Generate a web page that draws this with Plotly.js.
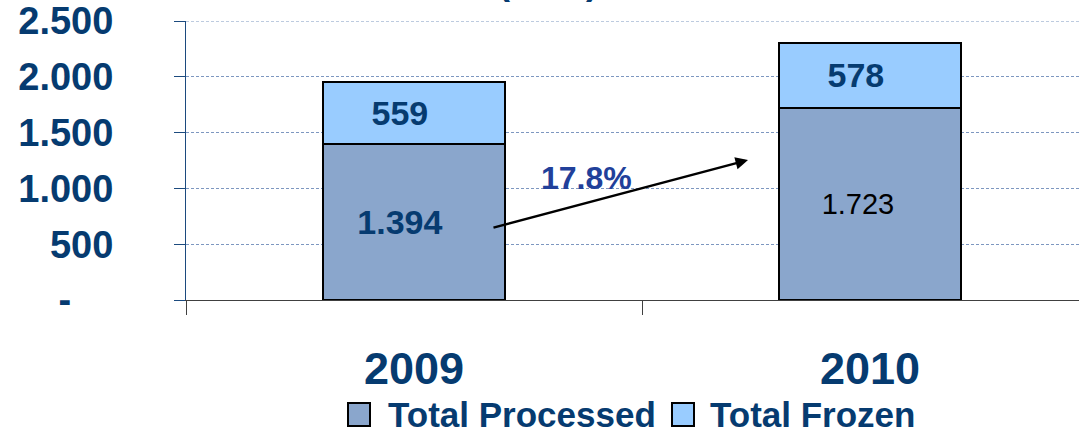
<!DOCTYPE html>
<html>
<head>
<meta charset="utf-8">
<script src="https://cdn.plot.ly/plotly-3.0.1.min.js"></script>
<style>
  body { margin: 0; background: #ffffff; }
  #chart { width: 1079px; height: 430px; }
</style>
</head>
<body>
<div id="chart"></div>
<script>
// chart data
var years = ["2009", "2010"];
var seriesNames = ["Total Processed", "Total Frozen"];
var processed = [1394, 1723];
var frozen = [559, 578];
var yTicks = [0, 500, 1000, 1500, 2000, 2500];

var NAVY = "#063b70";
var FONT = "Liberation Sans, Arial, sans-serif";
var PAD = "\u00a0\u00a0\u00a0"; // labels sit a bit left of the bar centre in the original

// plot area in page pixels (used for the hand made legend)
var L = 186, T = 21, W = 893, H = 279;
function px(x) { return (x - L) / W; }
function py(y) { return (T + H - y) / H; }

// 1394 -> "1.394"
function fmt(v) {
    return String(v).replace(/\B(?=(\d{3})+(?!\d))/g, ".");
}

var tickText = yTicks.map(function (v) {
    return v === 0 ? "-\u00a0\u00a0\u00a0\u00a0" : fmt(v);
});

// growth of the totals
var total0 = processed[0] + frozen[0];
var total1 = processed[1] + frozen[1];
var growth = ((total1 - total0) / total0 * 100).toFixed(1) + "%";

var traceProcessed = {
    type: "bar",
    name: seriesNames[0],
    x: years,
    y: processed,
    width: 0.4,
    text: ["<b>" + fmt(processed[0]) + PAD + "</b>", fmt(processed[1]) + PAD],
    textposition: "inside",
    insidetextanchor: "middle",
    constraintext: "none",
    textfont: { family: FONT, size: [34, 29], color: [NAVY, "#000000"] },
    marker: { color: "#8aa6cc", line: { color: "#000000", width: 2 } },
    hoverinfo: "skip"
};

var traceFrozen = {
    type: "bar",
    name: seriesNames[1],
    x: years,
    y: frozen,
    width: 0.4,
    text: frozen.map(function (v) { return "<b>" + fmt(v) + PAD + "</b>"; }),
    textposition: "inside",
    insidetextanchor: "middle",
    constraintext: "none",
    textfont: { family: FONT, size: 34, color: NAVY },
    marker: { color: "#99ccff", line: { color: "#000000", width: 2 } },
    hoverinfo: "skip"
};

var legendColors = ["#8aa6cc", "#99ccff"];
var legendBoxX = [348, 672];
var legendTextX = [386, 708];

var shapes = [];
var annotations = [];

// top gridline (plotly leaves out the one on the plot edge)
shapes.push({
    type: "line", xref: "paper", yref: "y",
    x0: 0, x1: 1, y0: yTicks[yTicks.length - 1], y1: yTicks[yTicks.length - 1],
    line: { color: "#7d97c0", width: 1, dash: "3px,2px" }
});

// legend, drawn by hand so the boxes can be as large as in the original
for (let i = 0; i < seriesNames.length; i++) {
    shapes.push({
        type: "rect", xref: "paper", yref: "paper",
        x0: px(legendBoxX[i]), x1: px(legendBoxX[i] + 22),
        y0: py(426), y1: py(403),
        fillcolor: legendColors[i],
        line: { color: "#000000", width: 2 }
    });
    annotations.push({
        xref: "paper", yref: "paper",
        x: px(legendTextX[i]), y: py(414),
        xanchor: "left", yanchor: "middle",
        text: "<b>" + seriesNames[i] + "</b>",
        showarrow: false,
        font: { family: FONT, size: 35, color: NAVY }
    });
}

// growth arrow and label
annotations.push({
    x: 0.7325, y: 1254, ax: 0.171, ay: 645,
    xref: "x", yref: "y", axref: "x", ayref: "y",
    text: "", showarrow: true,
    arrowhead: 2, arrowsize: 1, arrowwidth: 2.5, arrowcolor: "#000000"
});
annotations.push({
    x: 0.379, y: 1093, xref: "x", yref: "y",
    text: "<b>" + growth + "</b>", showarrow: false,
    font: { family: FONT, size: 32, color: "#21409a" }
});

// title, mostly cut off at the top of the picture
annotations.push({
    xref: "paper", yref: "paper",
    x: px(548), y: py(4), xanchor: "center", yanchor: "bottom",
    text: "<b>(tons)</b>", showarrow: false,
    font: { family: FONT, size: 36, color: NAVY }
});

var layout = {
    width: 1079,
    height: 430,
    margin: { l: L, r: 0, t: T, b: 430 - T - H },
    paper_bgcolor: "#ffffff",
    plot_bgcolor: "#ffffff",
    barmode: "stack",
    showlegend: false,
    font: { family: FONT },

    xaxis: {
        type: "category",
        range: [-0.5, -0.5 + W / 456],
        tickson: "boundaries",
        ticks: "outside",
        ticklen: 14,
        tickcolor: "#404040",
        showline: true,
        linecolor: "#404040",
        linewidth: 1,
        showgrid: false,
        ticklabelstandoff: 29,
        tickfont: { family: FONT, size: 45, color: NAVY, weight: "bold" }
    },
    yaxis: {
        range: [0, 2500],
        tickvals: yTicks,
        ticktext: tickText,
        ticks: "outside",
        ticklen: 11,
        tickcolor: "#1c4a7e",
        showline: true,
        linecolor: "#1c4a7e",
        linewidth: 1,
        showgrid: true,
        gridcolor: "#7d97c0",
        griddash: "3px,2px",
        gridwidth: 1,
        zeroline: false,
        ticklabelstandoff: 53,
        tickfont: { family: FONT, size: 38, color: NAVY, weight: "bold" }
    },

    shapes: shapes,
    annotations: annotations
};

Plotly.newPlot("chart", [traceProcessed, traceFrozen], layout, { displayModeBar: false, staticPlot: true });
</script>
</body>
</html>
